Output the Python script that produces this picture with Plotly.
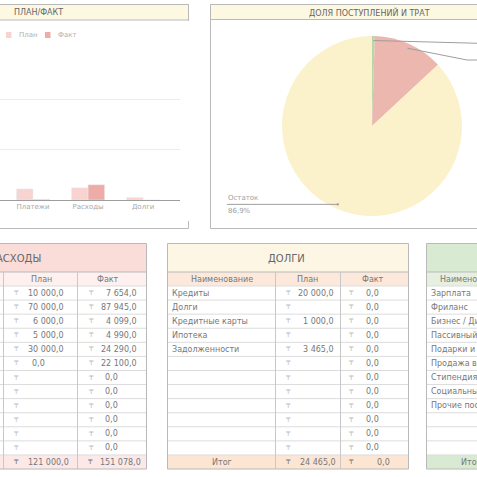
import math
import plotly.graph_objects as go

W = 477
H = 477
FONT = "DejaVu Sans"

# ---------------- data ----------------
bar_categories = ["Доходы", "Платежи", "Расходы", "Долги"]
bar_plan = [1200000, 110000, 121000, 24465]
bar_fact = [1199078, 6000, 151078, 0]

pie_labels = ["Платежи", "Расходы", "Остаток"]
pie_values = [6000, 151078, 1042000]

expense_plan = [10000, 70000, 6000, 5000, 30000, 0, None, None, None, None, None, None]
expense_fact = [7654, 87945, 4099, 4990, 24290, 22100, 0, 0, 0, 0, 0, 0]

debt_names = ["Кредиты", "Долги", "Кредитные карты", "Ипотека", "Задолженности",
              "", "", "", "", "", "", ""]
debt_plan = [20000, None, 1000, None, 3465, None, None, None, None, None, None, None]
debt_fact = [0, 0, 0, 0, 0, 0, 0, 0, 0, 0, 0, 0]

income_names = ["Зарплата", "Фриланс", "Бизнес / Дивиденды", "Пассивный доход",
                "Подарки и выигрыши", "Продажа вещей", "Стипендия",
                "Социальные выплаты", "Прочие поступления", "", "", ""]

# ---------------- styles ----------------
PLAN_COLOR = "#f7d4d0"
FACT_COLOR = "#eeaca6"
PIE_COLORS = ["#b7d7a8", "#ebb7af", "#fbf2cb"]
BORDER = "#b9b9b9"
GRID = "#dcdcdc"
CREAM = "#fdf8e2"
TXT = "#777777"
TITLE_TXT = "#666666"
CUR = "\u20b8"

shapes = []
annotations = []


def X(x):
    return x / W


def Y(y):
    return 1 - y / H


def rect(x0, y0, x1, y1, fill=None, line=None, lw=1, layer="below"):
    shapes.append(dict(type="rect", xref="paper", yref="paper",
                       x0=X(x0), x1=X(x1), y0=Y(y1), y1=Y(y0),
                       fillcolor=fill or "rgba(0,0,0,0)",
                       line=dict(color=line or "rgba(0,0,0,0)", width=lw if line else 0),
                       layer=layer))


def seg(x0, y0, x1, y1, color, lw=1, layer="below"):
    shapes.append(dict(type="line", xref="paper", yref="paper",
                       x0=X(x0), x1=X(x1), y0=Y(y0), y1=Y(y1),
                       line=dict(color=color, width=lw), layer=layer))


def text(x, y, s, size=8, color=TXT, xanchor="center", yanchor="middle"):
    annotations.append(dict(xref="paper", yref="paper", x=X(x), y=Y(y), text=s,
                            showarrow=False, xanchor=xanchor, yanchor=yanchor,
                            font=dict(family=FONT, size=size, color=color)))


def fmt(v):
    return f"{v:,.1f}".replace(",", " ").replace(".", ",")


# ---------------- panel 1 : plan / fact ----------------
rect(-10, 4.5, 188.5, 228.5, fill="white", line=BORDER)
rect(-10, 21, 191, 221, fill="white")
rect(-10, 4.5, 188.5, 20, fill=CREAM, line=BORDER)
text(12, 12.5, "ПЛАН/ФАКТ", size=8, color=TITLE_TXT, xanchor="left")

# manual legend
rect(6, 32, 11.5, 38, fill=PLAN_COLOR)
text(17, 35, "План", size=7, color="#b0b0b0", xanchor="left")
rect(45, 32, 50.5, 38, fill=FACT_COLOR)
text(56, 35, "Факт", size=7, color="#b0b0b0", xanchor="left")

# ---------------- panel 2 : pie ----------------
rect(210.5, 4.5, 560, 228.5, fill="white", line=BORDER)
rect(210.5, 4.5, 560, 19.5, fill=CREAM, line=BORDER)
text(369, 12.5, "ДОЛЯ ПОСТУПЛЕНИЙ И ТРАТ", size=8, color=TITLE_TXT)

CX, CY, R = 372, 126, 90
tot = sum(pie_values)
mids = []
cum = 0
for v in pie_values:
    mids.append((cum + v / 2) / tot * 360)
    cum += v


def edge(angle, k=0.95):
    a = math.radians(angle)
    return CX + k * R * math.sin(a), CY - k * R * math.cos(a)


RIGHT_LABEL_Y = [44, 60]
RIGHT_ELBOW_X = [505, 467]
for k in range(2):
    sx, sy = edge(mids[k])
    seg(sx, sy, RIGHT_ELBOW_X[k], RIGHT_LABEL_Y[k], "#9e9e9e", layer="above")
    seg(RIGHT_ELBOW_X[k], RIGHT_LABEL_Y[k], 560, RIGHT_LABEL_Y[k], "#9e9e9e", layer="above")

sx, sy = edge(mids[2])
seg(227, sy, sx, sy, "#9e9e9e", layer="above")
shapes.append(dict(type="circle", xref="paper", yref="paper",
                   x0=X(sx - 1.2), x1=X(sx + 1.2), y0=Y(sy + 1.2), y1=Y(sy - 1.2),
                   fillcolor="#9e9e9e", line=dict(width=0), layer="above"))
pct = f"{pie_values[2] / tot * 100:.1f}".replace(".", ",") + "%"
text(226, sy - 0.5, pie_labels[2], size=7, color="#a0a0a0", xanchor="left", yanchor="bottom")
text(226, sy + 0.5, pct, size=7, color="#a0a0a0", xanchor="left", yanchor="top")

# ---------------- tables ----------------
ROW_TOP = 243.5
TITLE_BOTTOM = 272
HEAD_BOTTOM = 286
ROW_H = 14.08
N_ROWS = 12


def row_edge(i):
    return HEAD_BOTTOM + ROW_H * i


def row_center(i):
    return HEAD_BOTTOM + ROW_H * (i + 0.5)


TABLE_BOTTOM = row_edge(N_ROWS + 1)


def table_frame(edges, title_fill, head_fill, total_fill):
    x0, x1 = edges[0], edges[-1]
    rect(x0, ROW_TOP, x1, TITLE_BOTTOM, fill=title_fill)
    rect(x0, TITLE_BOTTOM, x1, HEAD_BOTTOM, fill=head_fill)
    rect(x0, TABLE_BOTTOM - ROW_H, x1, TABLE_BOTTOM, fill=total_fill)
    for i in range(1, N_ROWS + 1):
        seg(x0, row_edge(i), x1, row_edge(i), GRID)
    seg(x0, TITLE_BOTTOM, x1, TITLE_BOTTOM, BORDER)
    seg(x0, HEAD_BOTTOM, x1, HEAD_BOTTOM, GRID)
    for e in edges[1:-1]:
        seg(e, TITLE_BOTTOM, e, TABLE_BOTTOM, "#c8c8c8")
    rect(x0, ROW_TOP, x1, TABLE_BOTTOM, line=BORDER)


# Table 1 : Расходы
T1 = [-80, 3.5, 77.5, 146.5]
table_frame(T1, "#fadcd8", "#fdf0ef", "#fce9e7")
text(42.5, 258, "РАСХОДЫ", size=10, color=TITLE_TXT, xanchor="right")
text(41, 279, "План")
text(108, 279, "Факт")
for i in range(N_ROWS):
    yc = row_center(i)
    text(16, yc, CUR, size=7, color="#c0c0c0")
    text(91, yc, CUR, size=7, color="#c0c0c0")
    p = expense_plan[i]
    if p is not None:
        if p == 0:
            text(30, yc, fmt(p), xanchor="left")
        else:
            text(65.5, yc, fmt(p), xanchor="right")
    f = expense_fact[i]
    if f == 0:
        text(103, yc, fmt(f), xanchor="left")
    else:
        text(138.5, yc, fmt(f), xanchor="right")
yt = row_center(N_ROWS)
text(16, yt, CUR, size=7, color="#777777")
text(90, yt, CUR, size=7, color="#777777")
text(70.5, yt, fmt(sum(v for v in expense_plan if v)), xanchor="right")
text(142.5, yt, fmt(sum(expense_fact)), xanchor="right")

# Table 2 : Долги
T2 = [167.5, 275.5, 340.5, 408.5]
table_frame(T2, "#fdf6e4", "#fce9dc", "#fce6d3")
text(286.5, 258, "ДОЛГИ", size=10, color=TITLE_TXT)
text((T2[0] + T2[1]) / 2, 279, "Наименование")
text(307.5, 279, "План")
text(372.5, 279, "Факт")
for i in range(N_ROWS):
    yc = row_center(i)
    if debt_names[i]:
        text(170, yc, debt_names[i], xanchor="left")
    text(288, yc, CUR, size=7, color="#c0c0c0")
    text(351, yc, CUR, size=7, color="#c0c0c0")
    p = debt_plan[i]
    if p is not None:
        text(335.5, yc, fmt(p), xanchor="right")
    text(364, yc, fmt(debt_fact[i]), xanchor="left")
text((T2[0] + T2[1]) / 2, yt, "Итог")
text(288, yt, CUR, size=7, color="#777777")
text(351, yt, CUR, size=7, color="#777777")
text(337.5, yt, fmt(sum(v for v in debt_plan if v)), xanchor="right")
text(391.5, yt, fmt(sum(debt_fact)), xanchor="right")

# Table 3 : Доходы (only its left part is in view)
T3 = [426.5, 516, 600, 680]
table_frame(T3, "#d9ead3", "#e6f0e0", "#d9ead3")
text((T3[0] + T3[1]) / 2, 279, "Наименование")
for i in range(N_ROWS):
    if income_names[i]:
        text(429, row_center(i), income_names[i], xanchor="left")
text((T3[0] + T3[1]) / 2, yt, "Итог")

# ---------------- traces ----------------
fig = go.Figure()
fig.add_trace(go.Bar(x=bar_categories, y=bar_plan, name="План", marker_color=PLAN_COLOR,
                     hoverinfo="skip", showlegend=False))
fig.add_trace(go.Bar(x=bar_categories, y=bar_fact, name="Факт", marker_color=FACT_COLOR,
                     hoverinfo="skip", showlegend=False))
fig.add_trace(go.Pie(labels=pie_labels, values=pie_values, sort=False, direction="clockwise",
                     rotation=0, textinfo="none", hoverinfo="skip",
                     marker=dict(colors=PIE_COLORS, line=dict(width=0)),
                     domain=dict(x=[282 / W, 462 / W], y=[Y(216), Y(36)]),
                     showlegend=False))

fig.update_layout(
    width=W, height=H, autosize=False,
    margin=dict(l=0, r=0, t=0, b=0),
    paper_bgcolor="white", plot_bgcolor="rgba(0,0,0,0)",
    barmode="group", bargap=0.4, bargroupgap=0,
    showlegend=False,
    xaxis=dict(domain=[0, 180 / W], type="category", range=[0.4, 3.67],
               showline=True, linecolor="#9e9e9e", linewidth=1, showgrid=False,
               ticks="", tickfont=dict(family=FONT, size=7, color="#a8a8a8"),
               fixedrange=True),
    yaxis=dict(domain=[Y(200), Y(49)], range=[0, 1500000], dtick=500000,
               showgrid=True, gridcolor="#ececec", zeroline=False, showline=False,
               showticklabels=False, fixedrange=True),
    shapes=shapes,
    annotations=annotations,
)

fig.write_html("out.html", config={"displayModeBar": False})
